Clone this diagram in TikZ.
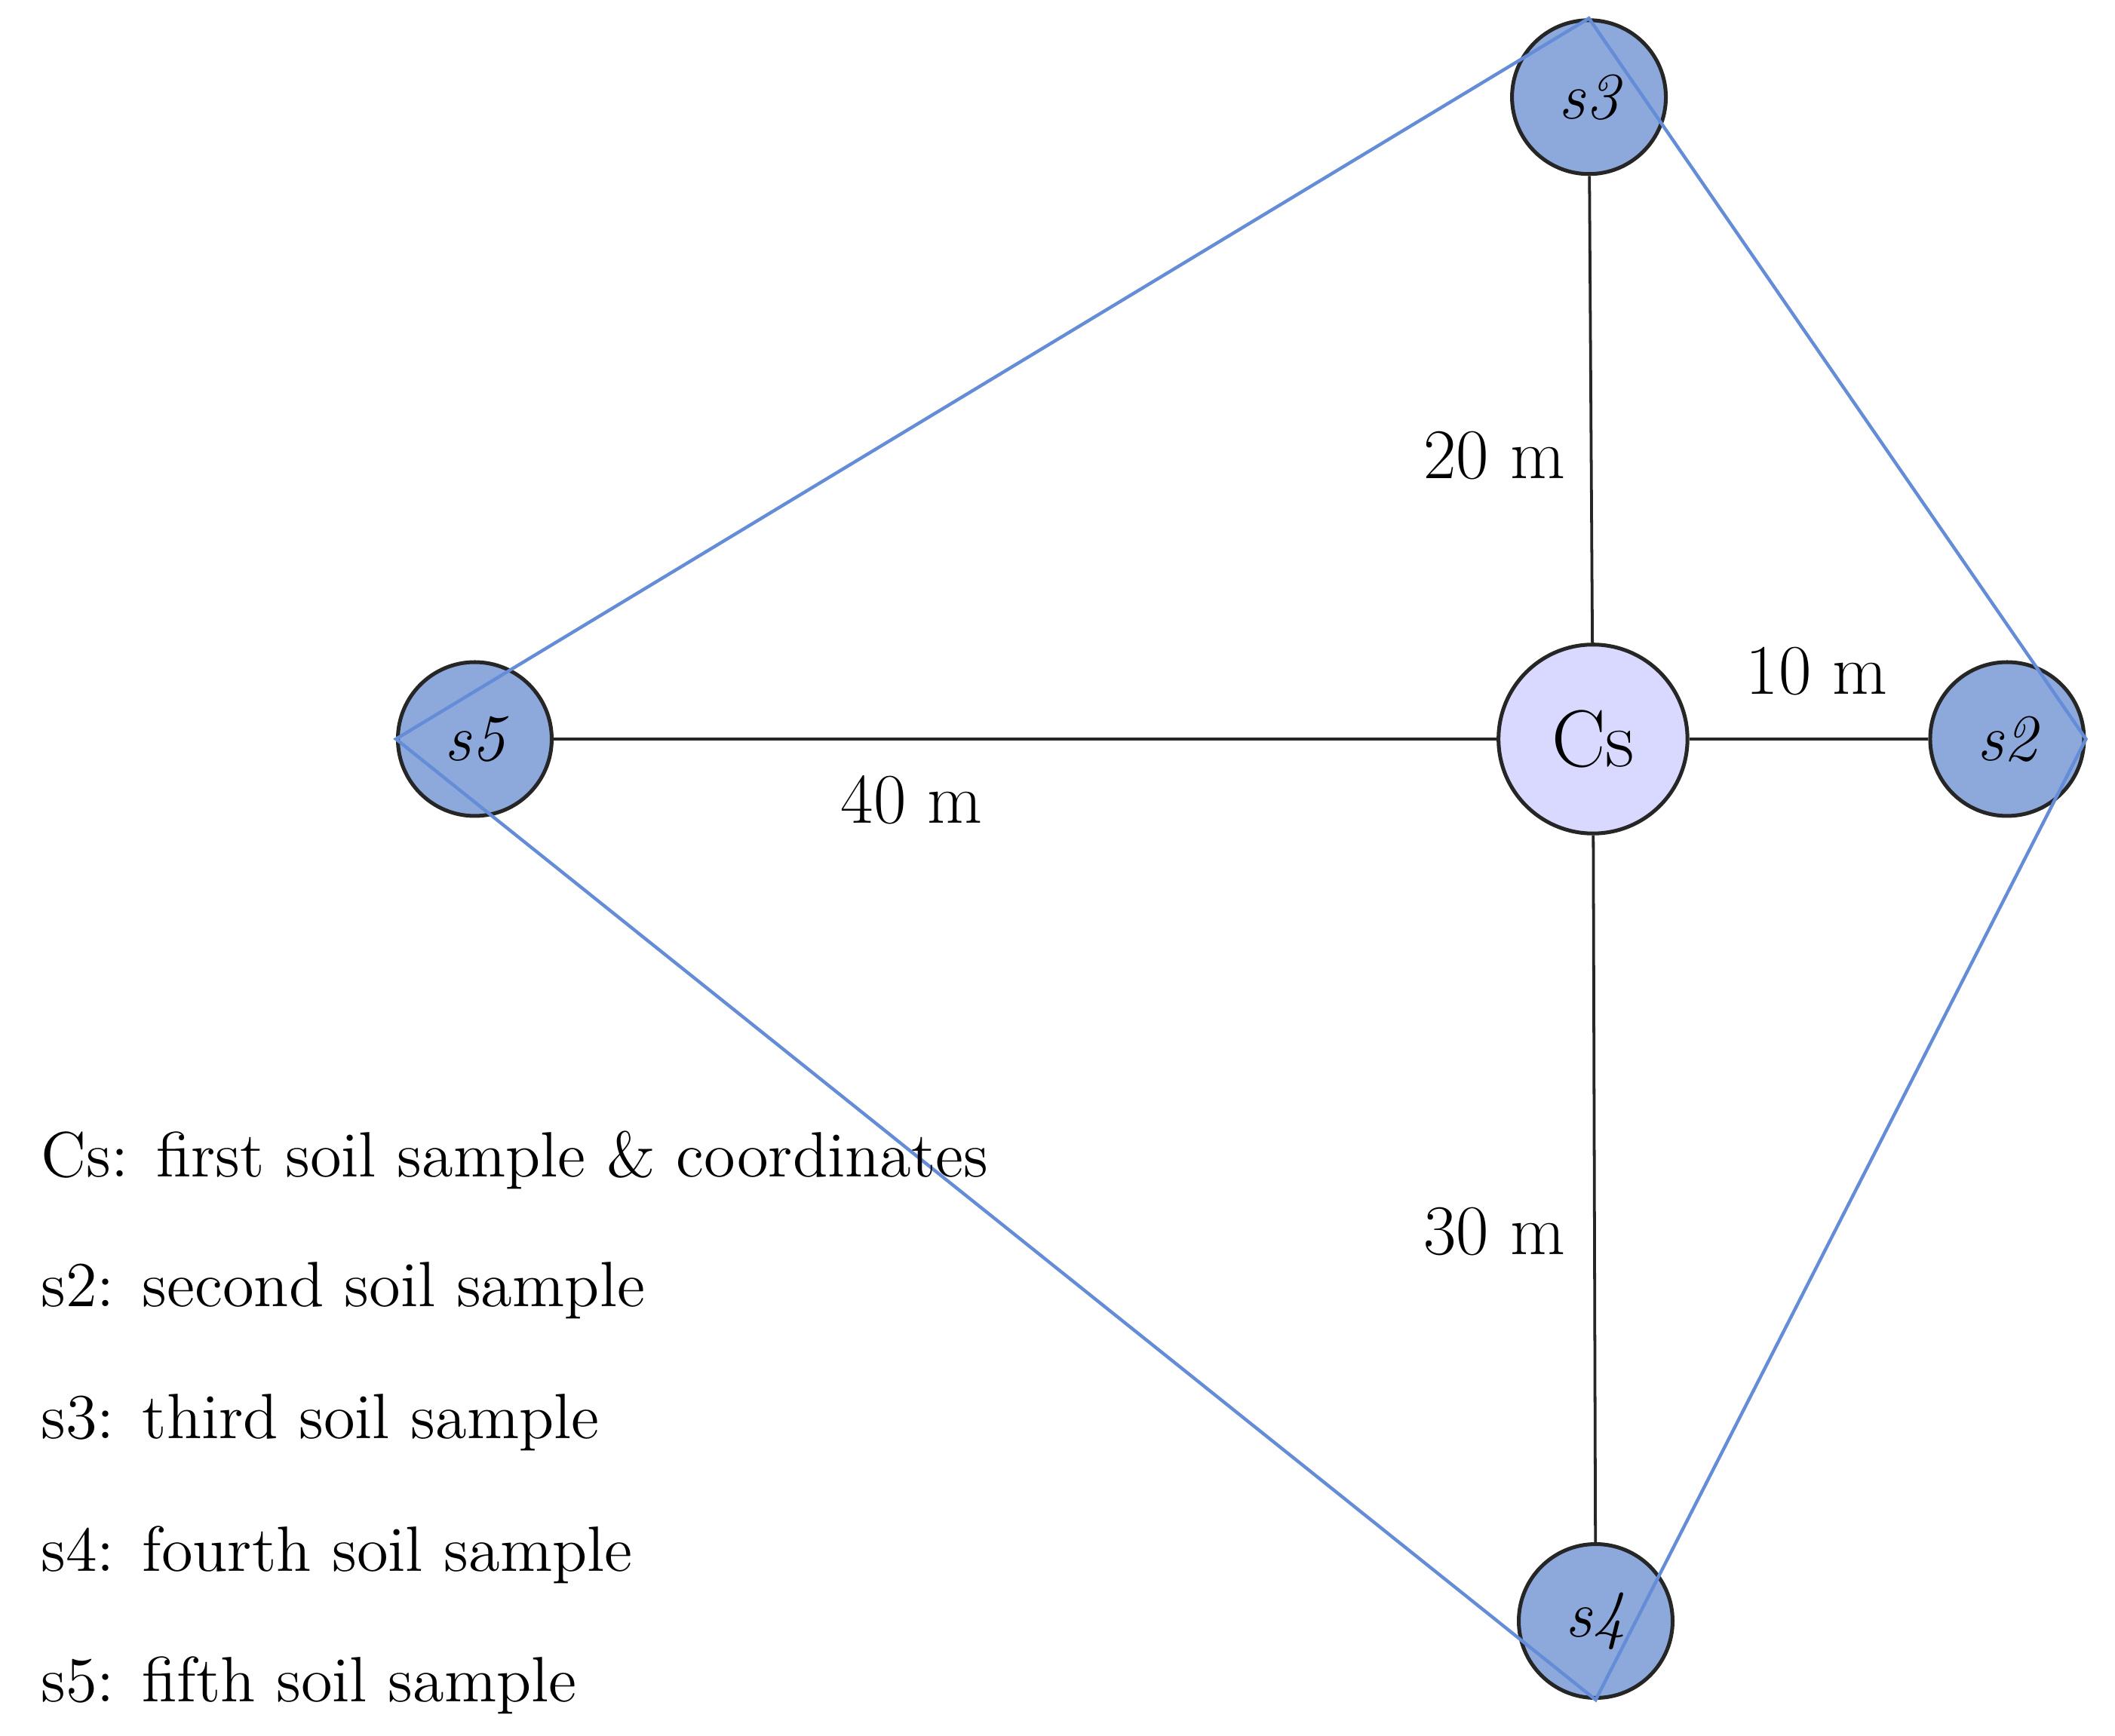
\documentclass[tikz,border=0pt]{standalone}
\begin{document}
\begin{tikzpicture}[x=0.01cm,y=-0.01cm,
  samp/.style={circle,draw=black!85,line width=0.8pt,fill=blue!45!cyan!20!white!55!blue!50,minimum size=1.14cm,inner sep=0pt,font=\fontsize{14}{16}\selectfont\itshape},
  cs/.style={circle,draw=black!85,line width=0.8pt,fill=blue!15!white,minimum size=1.40cm,inner sep=0pt,font=\fontsize{17}{19}\selectfont},
  lbl/.style={font=\fontsize{15}{17}\selectfont},
  leg/.style={font=\fontsize{13.5}{16}\selectfont,anchor=west},
  edge/.style={black!85,line width=0.6pt},
  poly/.style={draw=blue!55!cyan!60!black!40!blue!60,line width=0.7pt}]
\definecolor{sampfill}{RGB}{141,169,219}
\definecolor{polyc}{RGB}{100,140,215}
\tikzset{samp/.append style={fill=sampfill},poly/.style={draw=polyc,line width=0.7pt}}
\useasboundingbox (0,0) rectangle (1568,1287);
\node[samp] (s3) at (1178,72) {s3};
\node[cs] (cs) at (1181,548) {Cs};
\node[samp] (s2) at (1488,548) {s2};
\node[samp] (s5) at (352,548) {s5};
\node[samp] (s4) at (1183,1202) {s4};
\draw[edge] (cs) -- (s3);
\draw[edge] (cs) -- (s2);
\draw[edge] (cs) -- (s5);
\draw[edge] (cs) -- (s4);
\draw[poly] (s5.west) -- (s3.north) -- (s2.east) -- (s4.south) -- cycle;
\node[lbl] (l20) at (1108,338) {20 m};
\node[lbl] (l10) at (1347,498) {10 m};
\node[lbl] (l40) at (676,593) {40 m};
\node[lbl] (l30) at (1108,913) {30 m};
\node[leg] (g1) at (18,860) {Cs: first soil sample \& coordinates};
\node[leg] (g2) at (18,957) {s2: second soil sample};
\node[leg] (g3) at (18,1055) {s3: third soil sample};
\node[leg] (g4) at (18,1153) {s4: fourth soil sample};
\node[leg] (g5) at (18,1250) {s5: fifth soil sample};
\end{tikzpicture}
\end{document}
